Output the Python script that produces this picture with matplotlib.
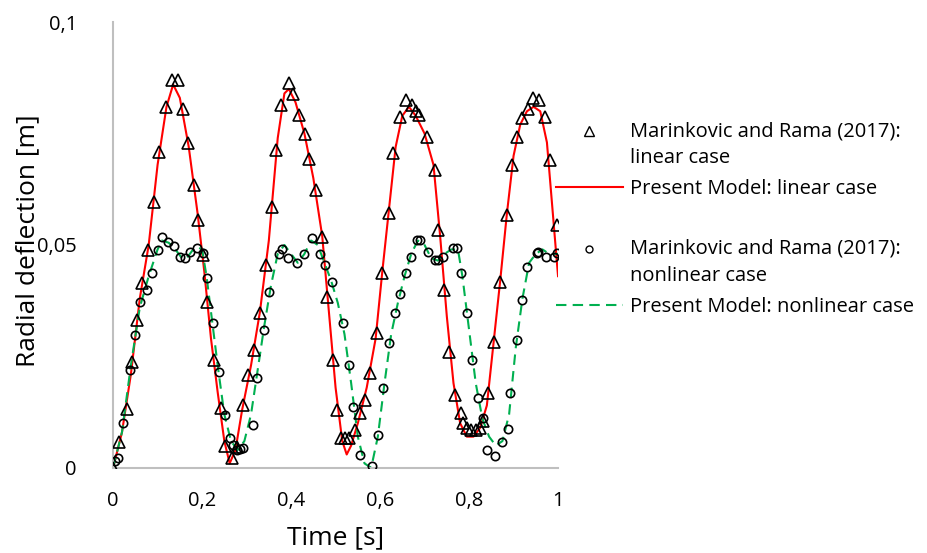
import numpy as np
import matplotlib.pyplot as plt
from matplotlib.lines import Line2D
from matplotlib.legend_handler import HandlerLine2D

# Present model, linear case (red line)
lin_t = [0, 0.02, 0.04, 0.06, 0.08, 0.10, 0.12, 0.135, 0.15, 0.17, 0.19, 0.205,
         0.22, 0.235, 0.25, 0.262, 0.275, 0.29, 0.31, 0.33, 0.35, 0.37, 0.385,
         0.395, 0.41, 0.43, 0.45, 0.47, 0.485, 0.50, 0.515, 0.525, 0.535, 0.55,
         0.57, 0.59, 0.605, 0.62, 0.635, 0.65, 0.665, 0.68, 0.70, 0.72, 0.735,
         0.75, 0.765, 0.78, 0.795, 0.81, 0.825, 0.84, 0.855, 0.87, 0.885, 0.90,
         0.915, 0.93, 0.945, 0.96, 0.975, 0.99, 1.0]
lin_y = [0, 0.008, 0.021, 0.038, 0.050, 0.068, 0.081, 0.086, 0.083, 0.072, 0.057,
         0.044, 0.029, 0.017, 0.006, 0.001, 0.004, 0.013, 0.023, 0.035, 0.051,
         0.074, 0.084, 0.085, 0.082, 0.075, 0.065, 0.052, 0.035, 0.018, 0.006,
         0.003, 0.005, 0.010, 0.018, 0.029, 0.044, 0.058, 0.072, 0.079, 0.081,
         0.079, 0.075, 0.068, 0.052, 0.034, 0.019, 0.010, 0.007, 0.007, 0.009,
         0.014, 0.028, 0.042, 0.057, 0.070, 0.077, 0.080, 0.081, 0.080, 0.073,
         0.055, 0.043]

# Present model, nonlinear case (green dashed line)
nl_t = [0, 0.02, 0.04, 0.06, 0.08, 0.10, 0.11, 0.125, 0.14, 0.155, 0.165, 0.18,
        0.19, 0.20, 0.21, 0.22, 0.235, 0.25, 0.265, 0.28, 0.295, 0.31, 0.325,
        0.34, 0.355, 0.37, 0.385, 0.40, 0.415, 0.43, 0.445, 0.46, 0.475, 0.49,
        0.505, 0.52, 0.535, 0.55, 0.565, 0.58, 0.595, 0.61, 0.625, 0.64, 0.655,
        0.67, 0.685, 0.70, 0.715, 0.73, 0.745, 0.76, 0.775, 0.785, 0.80, 0.815,
        0.83, 0.845, 0.86, 0.875, 0.89, 0.905, 0.92, 0.935, 0.95, 0.965, 0.98, 1.0]
nl_y = [0, 0.008, 0.023, 0.036, 0.043, 0.049, 0.051, 0.0505, 0.049, 0.047, 0.047,
        0.049, 0.0495, 0.049, 0.043, 0.035, 0.023, 0.012, 0.006, 0.004, 0.006,
        0.012, 0.022, 0.032, 0.041, 0.048, 0.050, 0.048, 0.046, 0.048, 0.051,
        0.050, 0.046, 0.042, 0.037, 0.030, 0.019, 0.007, 0.001, 0.0, 0.007,
        0.019, 0.030, 0.037, 0.043, 0.048, 0.051, 0.050, 0.047, 0.0465, 0.048,
        0.049, 0.049, 0.043, 0.031, 0.019, 0.011, 0.007, 0.005, 0.006, 0.012,
        0.027, 0.038, 0.046, 0.048, 0.049, 0.048, 0.048]

# Marinkovic and Rama (2017): linear case (triangles)
ref_lin_t = [0.000, 0.014, 0.031, 0.042, 0.053, 0.064, 0.079, 0.091, 0.104, 0.119,
             0.132, 0.145, 0.156, 0.168, 0.182, 0.190, 0.203, 0.210, 0.227, 0.243,
             0.252, 0.267, 0.278, 0.293, 0.304, 0.317, 0.330, 0.344, 0.357, 0.366,
             0.377, 0.396, 0.405, 0.417, 0.431, 0.440, 0.456, 0.470, 0.480, 0.495,
             0.503, 0.512, 0.521, 0.530, 0.544, 0.555, 0.566, 0.578, 0.593, 0.604,
             0.619, 0.630, 0.645, 0.658, 0.671, 0.680, 0.688, 0.705, 0.724, 0.731,
             0.744, 0.756, 0.769, 0.781, 0.787, 0.795, 0.805, 0.815, 0.825, 0.832,
             0.843, 0.855, 0.870, 0.885, 0.896, 0.907, 0.918, 0.933, 0.944, 0.958,
             0.971, 0.982, 0.998]
ref_lin_y = [0.000, 0.0059, 0.0132, 0.0238, 0.0332, 0.0414, 0.0489, 0.0597, 0.0709,
             0.0810, 0.0871, 0.0871, 0.0806, 0.0728, 0.0635, 0.0556, 0.0478, 0.0373,
             0.0242, 0.0134, 0.0048, 0.0022, 0.0047, 0.0141, 0.0209, 0.0265, 0.0347,
             0.0455, 0.0586, 0.0713, 0.0814, 0.0863, 0.0838, 0.0791, 0.0750, 0.0694,
             0.0623, 0.0519, 0.0384, 0.0242, 0.0130, 0.0067, 0.0067, 0.0067, 0.0085,
             0.0123, 0.0152, 0.0212, 0.0302, 0.0437, 0.0571, 0.0706, 0.0788, 0.0825,
             0.0814, 0.0800, 0.0791, 0.0743, 0.0668, 0.0534, 0.0399, 0.0261, 0.0164,
             0.0123, 0.0100, 0.0090, 0.0085, 0.0085, 0.0090, 0.0104, 0.0167, 0.0283,
             0.0418, 0.0567, 0.0679, 0.0743, 0.0784, 0.0806, 0.0829, 0.0825, 0.0788,
             0.0690, 0.0545]

# Marinkovic and Rama (2017): nonlinear case (circles)
ref_nl_t = [0.005, 0.012, 0.023, 0.037, 0.049, 0.061, 0.076, 0.087, 0.102, 0.109,
            0.124, 0.136, 0.151, 0.162, 0.173, 0.188, 0.203, 0.210, 0.225, 0.237,
            0.251, 0.263, 0.270, 0.278, 0.285, 0.293, 0.315, 0.324, 0.339, 0.351,
            0.372, 0.379, 0.394, 0.413, 0.428, 0.447, 0.465, 0.476, 0.491, 0.516,
            0.531, 0.540, 0.555, 0.581, 0.596, 0.607, 0.619, 0.634, 0.645, 0.658,
            0.669, 0.682, 0.689, 0.708, 0.724, 0.731, 0.742, 0.765, 0.772, 0.783,
            0.795, 0.806, 0.821, 0.832, 0.840, 0.858, 0.873, 0.887, 0.893, 0.907,
            0.918, 0.931, 0.952, 0.956, 0.974, 0.990, 0.997]
ref_nl_y = [0.0015, 0.0022, 0.0100, 0.0220, 0.0298, 0.0373, 0.0400, 0.0437, 0.0489,
            0.0517, 0.0507, 0.0498, 0.0474, 0.0470, 0.0485, 0.0493, 0.0481, 0.0425,
            0.0325, 0.0216, 0.0118, 0.0066, 0.0051, 0.0040, 0.0042, 0.0044, 0.0096,
            0.0201, 0.0310, 0.0395, 0.0480, 0.0490, 0.0470, 0.0460, 0.0480, 0.0515,
            0.0480, 0.0455, 0.0418, 0.0325, 0.0230, 0.0137, 0.0029, 0.0004, 0.0074,
            0.0180, 0.0280, 0.0347, 0.0390, 0.0437, 0.0474, 0.0511, 0.0511, 0.0485,
            0.0466, 0.0466, 0.0474, 0.0493, 0.0493, 0.0437, 0.0347, 0.0242, 0.0156,
            0.0111, 0.0040, 0.0027, 0.0057, 0.0087, 0.0167, 0.0287, 0.0377, 0.0451,
            0.0481, 0.0485, 0.0474, 0.0474, 0.0483]

x_ticks = [0, 0.2, 0.4, 0.6, 0.8, 1.0]
x_ticklabels = ['0', '0,2', '0,4', '0,6', '0,8', '1']
y_ticks = [0, 0.05, 0.1]
y_ticklabels = ['0', '0,05', '0,1']

plt.rcParams['font.family'] = ['Open Sans', 'DejaVu Sans']


class FirstLineHandler(HandlerLine2D):
    """Marker handle lifted up to the first line of a two-line label."""
    def __init__(self, lift, **kw):
        super().__init__(**kw)
        self.lift = lift

    def create_artists(self, legend, orig_handle, xdescent, ydescent, width,
                       height, fontsize, trans):
        artists = super().create_artists(legend, orig_handle, xdescent, ydescent,
                                         width, height, fontsize, trans)
        for a in artists:
            a.set_ydata(np.asarray(a.get_ydata()) + self.lift)
        return artists


fig = plt.figure(figsize=(9.27, 5.53), dpi=100)
ax = fig.add_axes([0.122, 0.154, 0.480, 0.806])

red = '#FF0000'
green = '#00B050'

ax.plot(lin_t, lin_y, color=red, lw=1.5, zorder=2)
ax.plot(nl_t, nl_y, color=green, lw=1.5, dashes=(5, 3), zorder=2)
ax.plot(ref_lin_t, ref_lin_y, ls='none', marker='^', ms=9, mfc='none',
        mec='black', mew=1.2, zorder=3)
ax.plot(ref_nl_t, ref_nl_y, ls='none', marker='o', ms=6, mfc='none',
        mec='black', mew=1.2, zorder=3)

ax.set_xlim(0, 1)
ax.set_ylim(0, 0.1)
ax.set_xticks(x_ticks)
ax.set_xticklabels(x_ticklabels)
ax.set_yticks(y_ticks)
ax.set_yticklabels(y_ticklabels)
ax.tick_params(length=0, labelsize=14.5)
ax.tick_params(axis='y', pad=26)
ax.tick_params(axis='x', pad=17)

for s in ['top', 'right']:
    ax.spines[s].set_visible(False)
for s in ['left', 'bottom']:
    ax.spines[s].set_color('#BFBFBF')
    ax.spines[s].set_linewidth(1.5)

ax.set_xlabel('Time [s]', fontsize=19)
ax.xaxis.set_label_coords(0.5, -0.128)
ax.set_ylabel('Radial deflection [m]', fontsize=19)
ax.yaxis.set_label_coords(-0.163, 0.51)

tri = Line2D([], [], ls='none', marker='^', ms=7, mfc='none', mec='black', mew=1.0)
circ = Line2D([], [], ls='none', marker='o', ms=5, mfc='none', mec='black', mew=1.0)
handles = [
    tri,
    Line2D([], [], color=red, lw=1.5),
    Line2D([], [], ls='none'),
    circ,
    Line2D([], [], color=green, lw=1.5, dashes=(5, 3)),
]
labels = ['Marinkovic and Rama (2017):\nlinear case',
          'Present Model: linear case',
          ' ',
          'Marinkovic and Rama (2017):\nnonlinear case',
          'Present Model: nonlinear case']
leg = ax.legend(handles, labels, loc='upper left', bbox_to_anchor=(0.9955, 0.778),
                frameon=False, fontsize=14.5, handlelength=3.3, handletextpad=0.35,
                labelspacing=0.56, borderaxespad=0, borderpad=0,
                handler_map={tri: FirstLineHandler(10, numpoints=1),
                             circ: FirstLineHandler(10, numpoints=1)})
for t in leg.get_texts():
    t.set_linespacing(1.46)
# blank spacer row between the two groups
leg.get_texts()[2].set_fontsize(8.5)

fig.savefig('out.png', dpi=100)
